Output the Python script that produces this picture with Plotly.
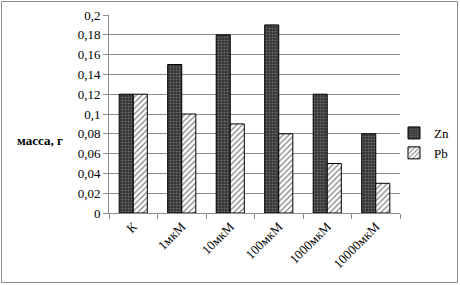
import plotly.graph_objects as go

categories = ["К", "1мкМ", "10мкМ", "100мкМ", "1000мкМ", "10000мкМ"]
zn = [0.12, 0.15, 0.18, 0.19, 0.12, 0.08]
pb = [0.12, 0.10, 0.09, 0.08, 0.05, 0.03]
ytickvals = [0, 0.02, 0.04, 0.06, 0.08, 0.1, 0.12, 0.14, 0.16, 0.18, 0.2]
yticktext = ["0", "0,02", "0,04", "0,06", "0,08", "0,1", "0,12", "0,14", "0,16", "0,18", "0,2"]

W, H = 460, 285
ml, mr, mt, mb = 109, 60, 15, 72
pw, ph = W - ml - mr, H - mt - mb
SERIF = "Liberation Serif"

fig = go.Figure()
fig.add_trace(go.Bar(
    x=categories, y=zn, name="Zn",
    marker=dict(color="#3a3a3a", line=dict(color="black", width=1),
                pattern=dict(shape=".", fgcolor="#a0a0a0", bgcolor="#333333", size=3, solidity=0.4)),
))
fig.add_trace(go.Bar(
    x=categories, y=pb, name="Pb",
    marker=dict(color="white", line=dict(color="black", width=1),
                pattern=dict(shape="/", fgcolor="black", bgcolor="white", size=4, solidity=0.3)),
))

fig.update_layout(
    width=W, height=H,
    margin=dict(l=ml, r=mr, t=mt, b=mb, autoexpand=False),
    paper_bgcolor="white", plot_bgcolor="white",
    barmode="group", bargap=0.42, bargroupgap=0,
    font=dict(family=SERIF, size=12, color="black"),
    showlegend=True,
    legend=dict(x=(394 - ml) / pw, y=(H - mb - 118) / ph, xanchor="left", yanchor="top",
                font=dict(family=SERIF, size=13, color="black"),
                itemwidth=30, bgcolor="rgba(0,0,0,0)", tracegroupgap=0),
    xaxis=dict(showline=True, linecolor="#8c8c8c", linewidth=1, ticks="outside",
               tickson="boundaries", ticklen=5, tickcolor="#8c8c8c",
               tickangle=-45, tickfont=dict(family=SERIF, size=13),
               showgrid=False, automargin=False),
    yaxis=dict(range=[0, 0.2], tickvals=ytickvals, ticktext=yticktext,
               showline=True, linecolor="#8c8c8c", linewidth=1,
               ticks="outside", ticklen=5, tickcolor="#8c8c8c",
               showgrid=True, gridcolor="#8c8c8c", gridwidth=1,
               tickfont=dict(family=SERIF, size=13),
               zeroline=False, automargin=False),
    annotations=[dict(text="<b>масса, г</b>", xref="paper", yref="paper",
                      x=(40 - ml) / pw, y=(H - mb - 140) / ph, xanchor="center", yanchor="middle",
                      showarrow=False, font=dict(family=SERIF, size=13))],
    shapes=[dict(type="rect", xref="paper", yref="paper",
                 x0=(1.5 - ml) / pw, x1=(W - 2.5 - ml) / pw,
                 y0=(H - mb - (H - 2.5)) / ph, y1=(H - mb - 1.5) / ph,
                 line=dict(color="#8c8c8c", width=1), fillcolor="rgba(0,0,0,0)", layer="below")],
)

fig.write_html("out.html", config={"displayModeBar": False})

# remove default page margin so the figure sits at the window's top-left corner
with open("out.html", "r", encoding="utf-8") as f:
    html = f.read()
html = html.replace("<head>", "<head><style>html,body{margin:0;padding:0;overflow:hidden;}</style>", 1)
with open("out.html", "w", encoding="utf-8") as f:
    f.write(html)
